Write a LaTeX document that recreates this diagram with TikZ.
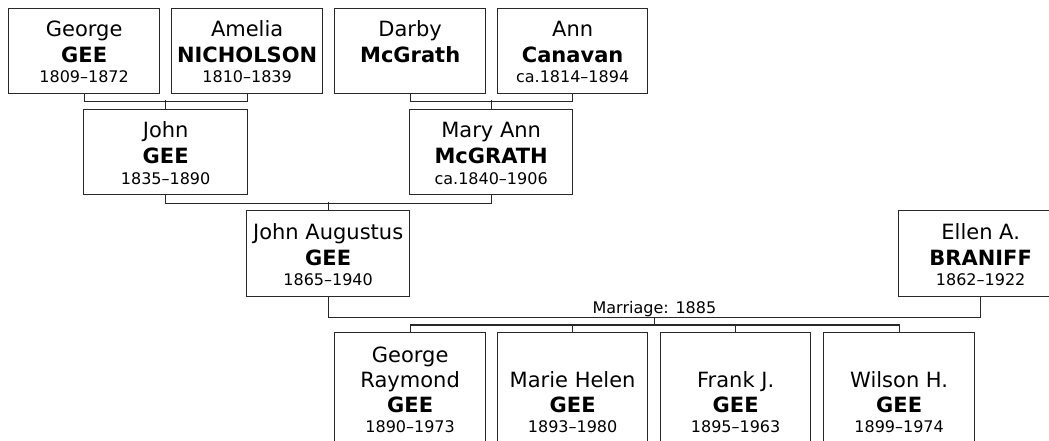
\documentclass[tikz,border=0pt]{standalone}
\usepackage{fontspec}
\setmainfont{DejaVu Sans}
\usetikzlibrary{calc}
\definecolor{ln}{RGB}{40,40,40}
\tikzset{
  person/.style={draw=ln, line width=1.3pt, rectangle, inner sep=0pt, anchor=north west},
  conn/.style={draw=ln, line width=1.3pt},
  given/.style={anchor=base, inner sep=0pt, font=\fontsize{21}{25}\selectfont},
  surname/.style={anchor=base, inner sep=0pt, font=\fontsize{21}{25}\selectfont\bfseries},
  years/.style={anchor=base, inner sep=0pt, font=\fontsize{16}{19}\selectfont},
  mlabel/.style={anchor=base, inner sep=0pt, font=\fontsize{16}{19}\selectfont},
}
\newcommand\famtext[4]{%
  \node[given] (#1-g) at ($(#1.north)+(0,29)$) {#2};
  \node[surname] (#1-s) at ($(#1.north)+(0,55)$) {#3};
  \node[years] (#1-y) at ($(#1.north)+(0,75)$) {#4};}
\newcommand\kidtext[4]{%
  \node[given] (#1-g) at ($(#1.north)+(0,55)$) {#2};
  \node[surname] (#1-s) at ($(#1.north)+(0,80)$) {#3};
  \node[years] (#1-y) at ($(#1.north)+(0,100)$) {#4};}
\begin{document}
\begin{tikzpicture}[x=1pt,y=-1pt]
\path[use as bounding box] (0,0) rectangle (1049,441);
\clip (0,0) rectangle (1049,441);
% boxes
\node[person, minimum width=151pt, minimum height=85pt] (george) at (8,8) {};
\node[person, minimum width=151pt, minimum height=85pt] (amelia) at (171,8) {};
\node[person, minimum width=151pt, minimum height=85pt] (darby) at (334,8) {};
\node[person, minimum width=150pt, minimum height=85pt] (ann) at (497,8) {};
\node[person, minimum width=164pt, minimum height=85pt] (john) at (83,109) {};
\node[person, minimum width=163pt, minimum height=85pt] (maryann) at (409,109) {};
\node[person, minimum width=163pt, minimum height=86pt] (johnaug) at (246,210) {};
\node[person, minimum width=164pt, minimum height=86pt] (ellen) at (898,210) {};
\node[person, minimum width=151pt, minimum height=140pt] (georger) at (334,332) {};
\node[person, minimum width=150pt, minimum height=140pt] (marie) at (497,332) {};
\node[person, minimum width=150pt, minimum height=140pt] (frank) at (660,332) {};
\node[person, minimum width=151pt, minimum height=140pt] (wilson) at (823,332) {};
% texts
\famtext{george}{George}{GEE}{1809\textendash1872}
\famtext{amelia}{Amelia}{NICHOLSON}{1810\textendash1839}
\node[given] (darby-g) at ($(darby.north)+(0,29)$) {Darby};
\node[surname] (darby-s) at ($(darby.north)+(0,55)$) {McGrath};
\famtext{ann}{Ann}{Canavan}{ca.1814\textendash1894}
\famtext{john}{John}{GEE}{1835\textendash1890}
\famtext{maryann}{Mary Ann}{McGRATH}{ca.1840\textendash1906}
\famtext{johnaug}{John Augustus}{GEE}{1865\textendash1940}
\famtext{ellen}{Ellen A.}{BRANIFF}{1862\textendash1922}
\node[given] (georger-g0) at ($(georger.north)+(0,30)$) {George};
\kidtext{georger}{Raymond}{GEE}{1890\textendash1973}
\kidtext{marie}{Marie Helen}{GEE}{1893\textendash1980}
\kidtext{frank}{Frank J.}{GEE}{1895\textendash1963}
\kidtext{wilson}{Wilson H.}{GEE}{1899\textendash1974}
% connectors
\draw[conn] (george.south) -- ++(0,7) -| (amelia.south);
\draw[conn] (john.north) -- ++(0,-9);
\draw[conn] (darby.south) -- ++(0,7) -| (ann.south);
\draw[conn] (maryann.north) -- ++(0,-9);
\draw[conn] (john.south) -- ++(0,8) -| (maryann.south);
\draw[conn] (johnaug.north) -- ++(0,-8);
\draw[conn] (johnaug.south) -- ++(0,20) -| (ellen.south);
\coordinate (mid) at ($(johnaug.south)!0.5!(ellen.south)+(0,20)$);
\node[mlabel] (marr) at ($(mid)+(0,-3.5)$) {Marriage: 1885};
\draw[conn] (mid) -- ++(0,9);
\draw[conn] (georger.north) -- ++(0,-7) -| (wilson.north);
\draw[conn] (marie.north) -- ++(0,-7);
\draw[conn] (frank.north) -- ++(0,-7);
\end{tikzpicture}
\end{document}
